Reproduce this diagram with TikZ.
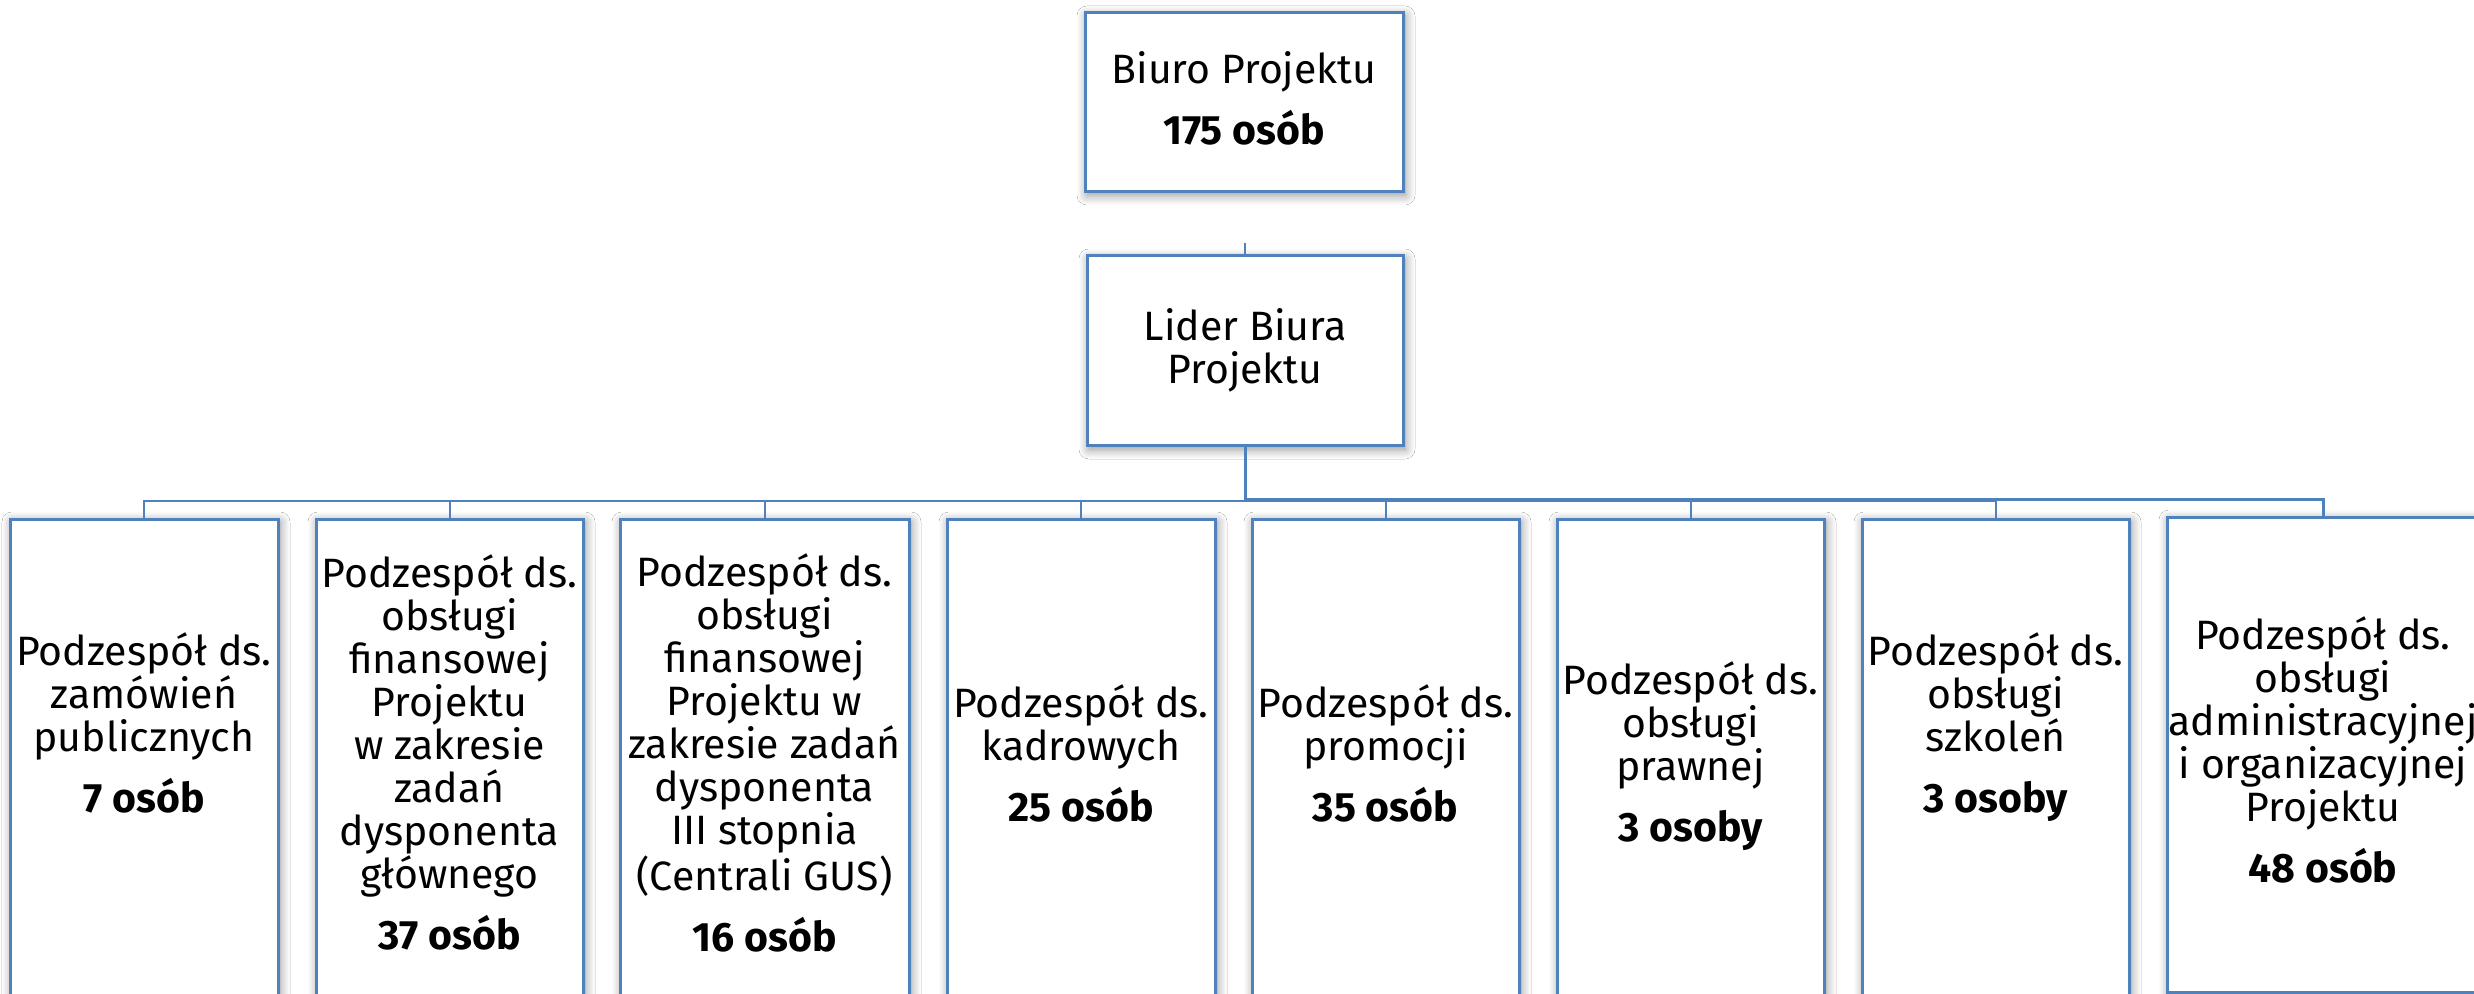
\documentclass[tikz,border=0pt]{standalone}
\usepackage{fontspec}
\setmainfont{Fira Sans}
\usetikzlibrary{shadows.blur}
\definecolor{bord}{HTML}{4F81BD}
\begin{document}
\begin{tikzpicture}[x=0.5pt,y=-0.5pt,
  box/.style={draw=bord, line width=1.5pt, fill=white, rectangle, inner sep=0pt,
    blur shadow={shadow blur steps=8, shadow xshift=1pt, shadow yshift=-1.5pt, shadow blur radius=5pt, shadow opacity=45}},
  txt/.style={align=center, inner sep=0pt, font=\fontsize{20.5pt}{21.5pt}\selectfont},
  conn/.style={draw=bord, line width=1pt},
  connthick/.style={draw=bord, line width=1.5pt}]
\useasboundingbox (0,0) rectangle (2474,994);
\fill[white] (0,0) rectangle (2474,994);

% top boxes
\node[box, minimum width=159pt, minimum height=89.5pt] (biuro) at (1244,102.5) {};
\node[box, minimum width=158pt, minimum height=95pt] (lider) at (1245,351) {};
\coordinate (stub) at (1245,243);

% bottom boxes
\node[box, minimum width=134pt, minimum height=246pt] (b1) at (144,765) {};
\node[box, minimum width=133.5pt, minimum height=246pt] (b2) at (449.5,765) {};
\node[box, minimum width=144.5pt, minimum height=246pt] (b3) at (764.5,765) {};
\node[box, minimum width=134pt, minimum height=246pt] (b4) at (1081,765) {};
\node[box, minimum width=133.5pt, minimum height=246pt] (b5) at (1385.5,765) {};
\node[box, minimum width=133.5pt, minimum height=246pt] (b6) at (1690.5,765) {};
\node[box, minimum width=133.5pt, minimum height=246pt] (b7) at (1995.5,765) {};
\node[box, minimum width=156pt, minimum height=237.5pt] (b8) at (2323,754.5) {};

% connectors
\draw[conn] (lider.north) -- (stub);
\foreach \b in {b1,b2,b3,b4,b5,b6,b7}
  \draw[conn] (lider.south) -- ++(0,54) -| (\b.north);
\draw[connthick] (lider.south) -- ++(0,52) -| (b8.north);

% texts
\node[txt] (tbiuro) at (1244,98) {Biuro Projektu\\[9pt]\textbf{175 osób}};
\node[txt] (tlider) at (1245,350) {Lider Biura\\Projektu};
\node[txt] (t1) at (144,723) {Podzespół ds.\\zamówień\\publicznych\\[9pt]\textbf{7 osób}};
\node[txt] (t2) at (449.5,752) {Podzespół ds.\\obsługi\\finansowej\\Projektu\\w zakresie\\zadań\\dysponenta\\głównego\\[9pt]\textbf{37 osób}};
\node[txt] (t3) at (764.5,753) {Podzespół ds.\\obsługi\\finansowej\\Projektu w\\zakresie zadań\\dysponenta\\III stopnia\\(Centrali GUS)\\[9pt]\textbf{16 osób}};
\node[txt] (t4) at (1081,753) {Podzespół ds.\\kadrowych\\[9pt]\textbf{25 osób}};
\node[txt] (t5) at (1385.5,753) {Podzespół ds.\\promocji\\[9pt]\textbf{35 osób}};
\node[txt] (t6) at (1690.5,756) {Podzespół ds.\\obsługi\\prawnej\\[9pt]\textbf{3 osoby}};
\node[txt] (t7) at (1995.5,727) {Podzespół ds.\\obsługi\\szkoleń\\[9pt]\textbf{3 osoby}};
\node[txt] (t8) at (2323,749.5) {Podzespół ds.\\obsługi\\administracyjnej\\i organizacyjnej\\Projektu\\[9pt]\textbf{48 osób}};
\end{tikzpicture}
\end{document}
